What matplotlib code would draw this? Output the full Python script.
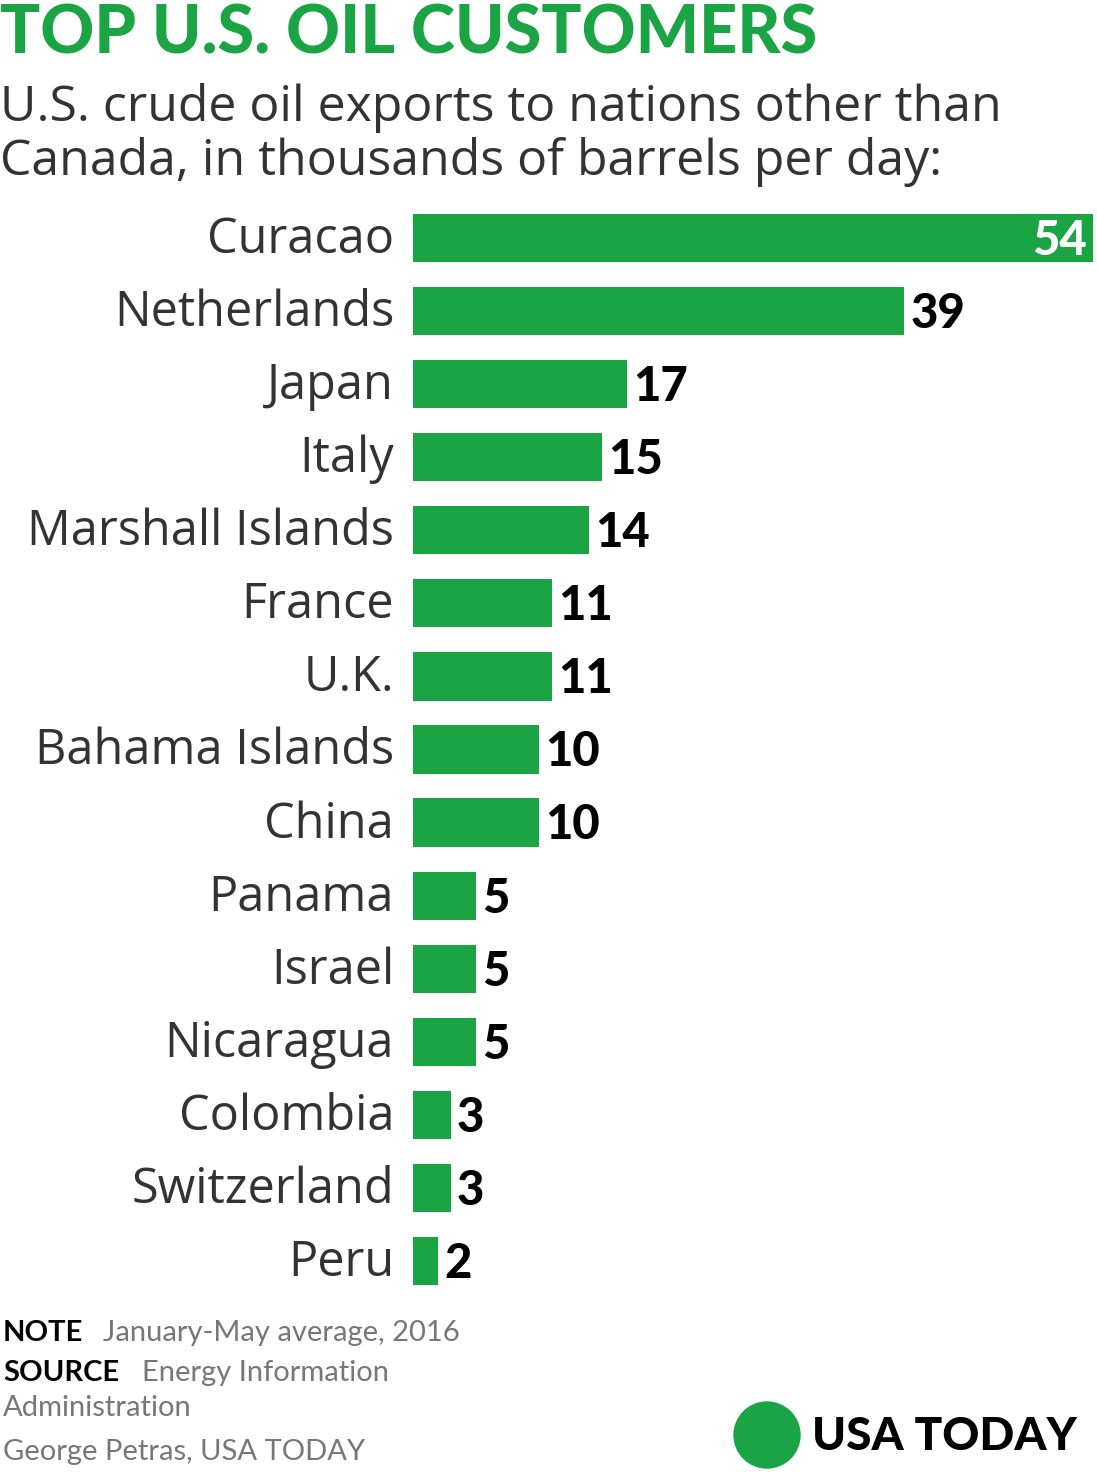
import matplotlib
matplotlib.use("Agg")
import matplotlib.pyplot as plt
from matplotlib.patches import Circle

countries = ['Curacao', 'Netherlands', 'Japan', 'Italy', 'Marshall Islands', 'France', 'U.K.',
             'Bahama Islands', 'China', 'Panama', 'Israel', 'Nicaragua', 'Colombia', 'Switzerland', 'Peru']
values = [54, 39, 17, 15, 14, 11, 11, 10, 10, 5, 5, 5, 3, 3, 2]

GREEN = '#1ba444'
W, H = 1097, 1473
plt.rcParams['font.family'] = ['Lato', 'DejaVu Sans']
LIGHT = ['Open Sans', 'DejaVu Sans']

fig = plt.figure(figsize=(W / 100, H / 100), dpi=100)

# axes placed in pixel coordinates: bars from x=413, rows centred from y=238 every 73px
top, bottom = 201.5, 1297.5
ax = fig.add_axes([413 / W, 1 - bottom / H, (1093 - 413) / W, (bottom - top) / H])
ypos = list(range(len(values)))
ax.barh(ypos, values, height=0.66, color=GREEN)
ax.set_xlim(0, 54)
ax.set_ylim(len(values) - 0.5, -0.5)
ax.axis('off')

for y, (name, v) in enumerate(zip(countries, values)):
    ax.text(-1.5, y + 0.03, name, ha='right', va='center', fontsize=35, color='#333333', family=LIGHT)
    if y == 0:
        ax.text(v - 0.5, y + 0.04, str(v), ha='right', va='center', fontsize=34, fontweight='black', color='white')
    else:
        ax.text(v + 0.5, y + 0.04, str(v), ha='left', va='center', fontsize=34, fontweight='black', color='black')

fig.text(0, 1 - 34 / H, 'TOP U.S. OIL CUSTOMERS', fontsize=48, fontweight='black', color=GREEN, va='center')
fig.text(0, 1 - 108 / H, 'U.S. crude oil exports to nations other than', fontsize=36, color='#333333',
         va='center', family=LIGHT)
fig.text(0, 1 - 162 / H, 'Canada, in thousands of barrels per day:', fontsize=36, color='#333333',
         va='center', family=LIGHT)

fig.text(3 / W, 1 - 1333 / H, 'NOTE', fontsize=21, fontweight='bold', color='black', va='center')
fig.text(103 / W, 1 - 1333 / H, 'January-May average, 2016', fontsize=21, color='#777777', va='center')
fig.text(3 / W, 1 - 1373 / H, 'SOURCE', fontsize=21, fontweight='bold', color='black', va='center')
fig.text(142 / W, 1 - 1373 / H, 'Energy Information', fontsize=21, color='#777777', va='center')
fig.text(3 / W, 1 - 1408 / H, 'Administration', fontsize=21, color='#777777', va='center')
fig.text(3 / W, 1 - 1452 / H, 'George Petras, USA TODAY', fontsize=21, color='#777777', va='center')

# logo
lax = fig.add_axes([0, 0, 1, 1])
lax.set_xlim(0, W)
lax.set_ylim(H, 0)
lax.axis('off')
lax.add_patch(Circle((767, 1435), 33, color=GREEN))
lax.text(812, 1437, 'USA TODAY', fontsize=33, fontweight='black', color='black', va='center', ha='left')

fig.savefig('out.png', dpi=100)
